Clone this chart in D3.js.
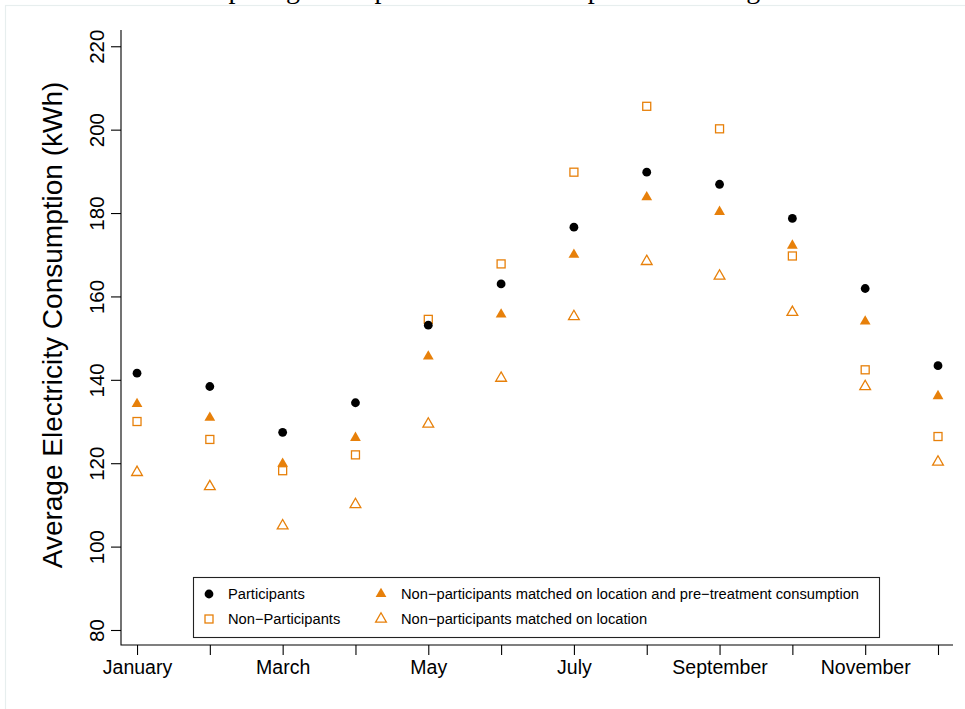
<!DOCTYPE html>
<html>
<head>
<meta charset="utf-8">
<script src="https://cdn.jsdelivr.net/npm/d3@7"></script>
<style>
  html, body { margin: 0; padding: 0; background: #fff; }
  svg { display: block; }
  text { font-family: "Liberation Sans", Arial, Helvetica, sans-serif; }
</style>
</head>
<body>
<svg id="chart" width="965" height="709"></svg>
<script>
// Monthly average electricity consumption (kWh) for each group
const months = ["January", "February", "March", "April", "May", "June",
                "July", "August", "September", "October", "November", "December"];
const participants       = [141.6, 138.4, 127.4, 134.5, 153.1, 163.0, 176.6, 189.8, 186.9, 178.7, 161.9, 143.4];
const nonParticipants    = [130.0, 125.7, 118.2, 122.0, 154.5, 167.8, 189.8, 205.6, 200.2, 169.7, 142.4, 126.4];
const matchedLocPre      = [134.2, 130.9, 119.9, 126.1, 145.6, 155.7, 170.0, 183.8, 180.3, 172.2, 154.0, 136.1];
const matchedLoc         = [117.8, 114.4, 105.0, 110.1, 129.4, 140.4, 155.2, 168.4, 164.9, 156.2, 138.4, 120.3];
const yTicks = [80, 100, 120, 140, 160, 180, 200, 220];
const xLabelled = ["January", "March", "May", "July", "September", "November"];

const legendItems = [
  { label: "Participants", shape: "circle" },
  { label: "Non\u2212Participants", shape: "square" },
  { label: "Non\u2212participants matched on location and pre\u2212treatment consumption", shape: "triFilled" },
  { label: "Non\u2212participants matched on location", shape: "triOpen" }
];

const ORANGE = "#e7800a";
const svg = d3.select("#chart");

// faint frame around the figure
svg.append("rect")
  .attr("x", 5.5).attr("y", 5.5).attr("width", 1000).attr("height", 1000)
  .attr("fill", "none").attr("stroke", "#e7eeee").attr("stroke-width", 1.2);

// heading (sits mostly above the visible area)
svg.append("text")
  .attr("x", 174).attr("y", -2)
  .style("font-family", "'Liberation Serif', 'Times New Roman', serif")
  .style("font-size", "28px")
  .attr("fill", "#000")
  .text("Comparing mean power use over all periods and regions");

const plot = { left: 121, right: 953, top: 30, bottom: 645 };

const x = d3.scaleLinear().domain([0.78, 12.206]).range([plot.left, plot.right]);
const y = d3.scaleLinear().domain([76.4, 223.9]).range([plot.bottom, plot.top]);

// L-shaped box
svg.append("path")
  .attr("d", `M${plot.left},${plot.top}V${plot.bottom}H${plot.right}`)
  .attr("fill", "none").attr("stroke", "#000").attr("stroke-width", 1.1);

// x axis
const xAxis = d3.axisBottom(x)
  .tickValues(d3.range(1, 13))
  .tickSize(10)
  .tickPadding(4)
  .tickFormat(i => xLabelled.includes(months[i - 1]) ? months[i - 1] : "");
const gx = svg.append("g").attr("transform", `translate(0,${plot.bottom})`).call(xAxis);
gx.select(".domain").remove();
gx.selectAll(".tick line").attr("stroke", "#000").attr("stroke-width", 1.1);
gx.selectAll(".tick text")
  .attr("y", 29).attr("dy", 0)
  .style("font-size", "19.5px").attr("fill", "#000");

// y axis with labels parallel to the axis
const yAxis = d3.axisLeft(y).tickValues(yTicks).tickSize(10).tickFormat(d3.format("d"));
const gy = svg.append("g").attr("transform", `translate(${plot.left},0)`).call(yAxis);
gy.select(".domain").remove();
gy.selectAll(".tick line").attr("stroke", "#000").attr("stroke-width", 1.1);
gy.selectAll(".tick text")
  .attr("x", null).attr("dy", null)
  .attr("text-anchor", "middle")
  .attr("transform", "translate(-17,0) rotate(-90)")
  .style("font-size", "20.5px").attr("fill", "#000");

// y axis title
svg.append("text")
  .attr("transform", `translate(62,${(78 + 572) / 2}) rotate(-90)`)
  .attr("text-anchor", "middle")
  .style("font-size", "28px")
  .attr("fill", "#000")
  .text("Average Electricity Consumption (kWh)");

// marker shapes
const TRI_R = 4;
function triPath(r) {
  const top = 1.5551 * r, half = 1.3468 * r, low = 0.7776 * r;
  return `M0,${-top}L${half},${low}L${-half},${low}Z`;
}
function drawMarker(g, shape) {
  if (shape === "circle") {
    g.append("circle").attr("r", 4.4).attr("fill", "#000");
  } else if (shape === "square") {
    g.append("rect").attr("x", -4).attr("y", -4).attr("width", 8).attr("height", 8)
      .attr("fill", "none").attr("stroke", ORANGE).attr("stroke-width", 1.3);
  } else if (shape === "triFilled") {
    g.append("path").attr("d", triPath(TRI_R)).attr("fill", ORANGE);
  } else {
    g.append("path").attr("d", triPath(TRI_R)).attr("fill", "none")
      .attr("stroke", ORANGE).attr("stroke-width", 1.3);
  }
}

const series = [
  { values: nonParticipants, shape: "square" },
  { values: matchedLoc, shape: "triOpen" },
  { values: matchedLocPre, shape: "triFilled" },
  { values: participants, shape: "circle" }
];
series.forEach(s => {
  const g = svg.append("g");
  s.values.forEach((v, i) => {
    const m = g.append("g").attr("transform", `translate(${x(i + 1)},${y(v)})`);
    drawMarker(m, s.shape);
  });
});

// legend
const legend = svg.append("g");
legend.append("rect")
  .attr("x", 193.5).attr("y", 577.5).attr("width", 686).attr("height", 60)
  .attr("fill", "#fff").attr("stroke", "#222").attr("stroke-width", 1.1);
const legPos = [
  { sx: 209, tx: 228, yy: 594 },
  { sx: 209, tx: 228, yy: 619 },
  { sx: 381, tx: 401, yy: 594 },
  { sx: 381, tx: 401, yy: 619 }
];
legendItems.forEach((d, i) => {
  const p = legPos[i];
  const m = legend.append("g").attr("transform", `translate(${p.sx},${p.yy})`);
  drawMarker(m, d.shape);
  legend.append("text")
    .attr("x", p.tx).attr("y", p.yy).attr("dy", "0.35em")
    .style("font-size", "14.7px").attr("fill", "#000")
    .text(d.label);
});
</script>
</body>
</html>
